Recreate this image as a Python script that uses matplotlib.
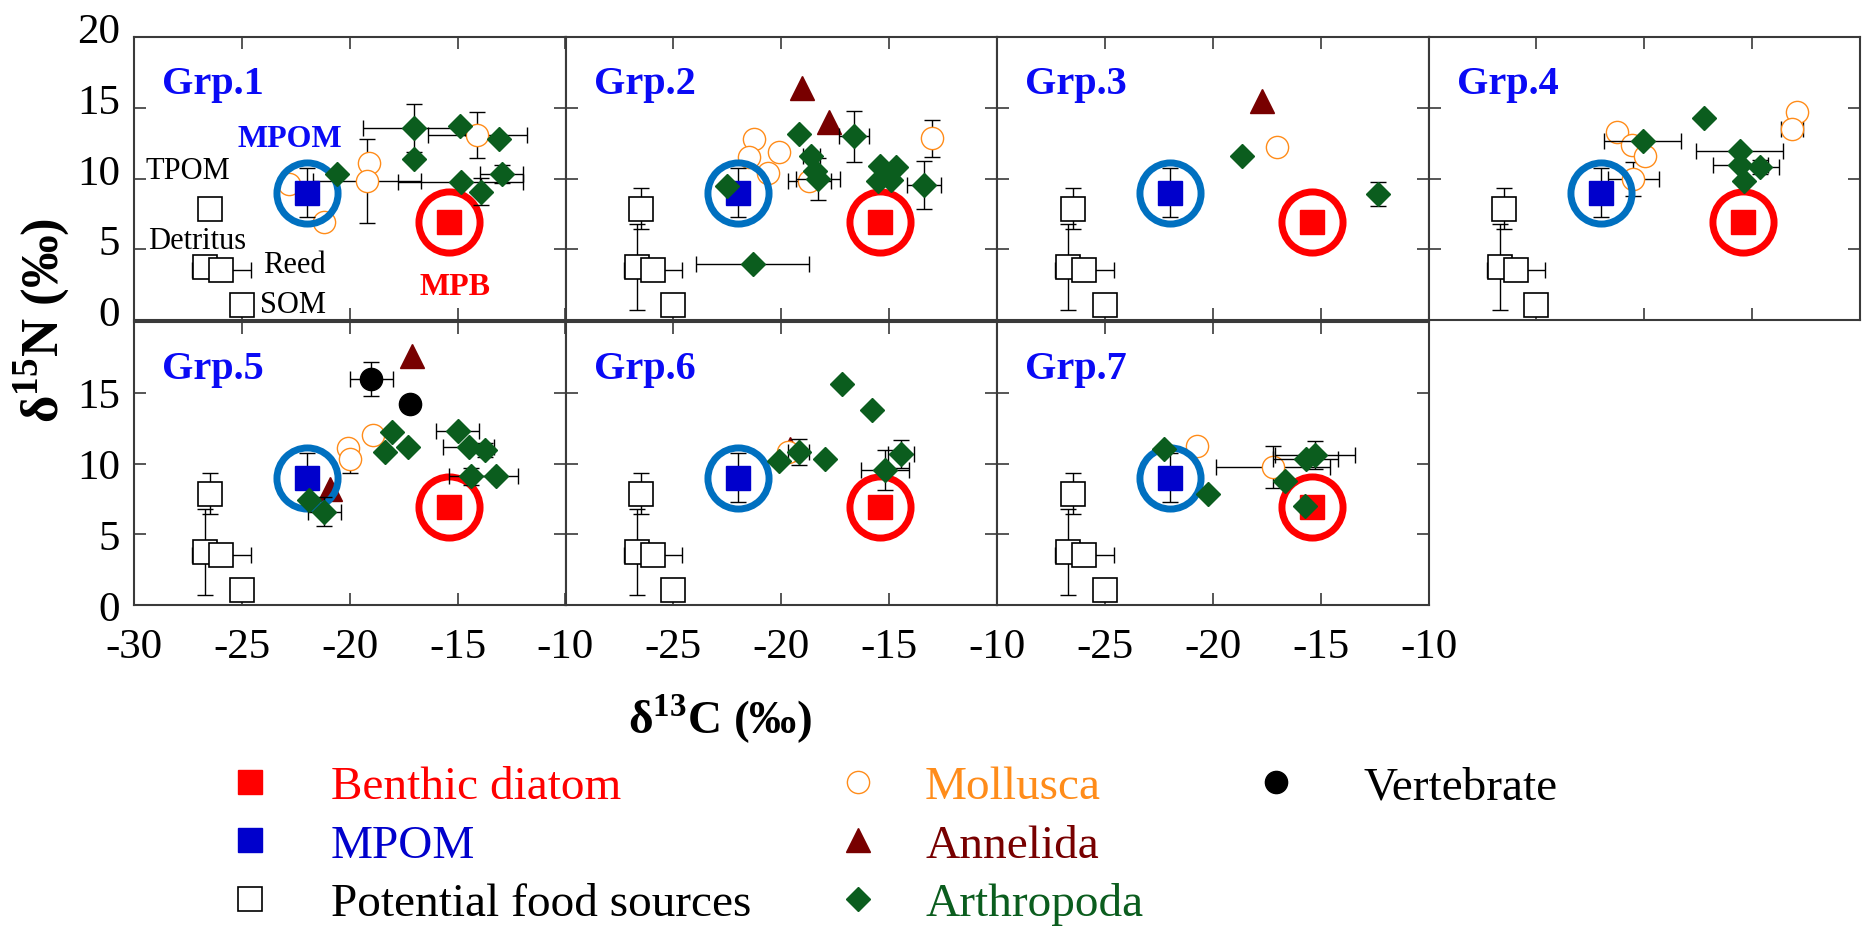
import numpy as np
import matplotlib.pyplot as plt
from matplotlib.lines import Line2D
from matplotlib.transforms import ScaledTranslation

plt.rcParams['font.family'] = ['Liberation Serif', 'DejaVu Serif']
plt.rcParams['mathtext.fontset'] = 'custom'
plt.rcParams['mathtext.rm'] = 'Liberation Serif'
plt.rcParams['mathtext.bf'] = 'Liberation Serif:bold'

RED = '#FF0000'
BLUE = '#0000CC'
RING_BLUE = '#0070C0'
LABEL_BLUE = '#0A0AF5'
ORANGE = '#FF8C1A'
DARK_RED = '#780000'
GREEN = '#0B5D1E'
FRAME = '#3A3A3A'

groups = ['Grp.1', 'Grp.2', 'Grp.3', 'Grp.4', 'Grp.5', 'Grp.6', 'Grp.7']

# potential food sources (same in every group)
food_names = ['TPOM', 'Detritus', 'Reed', 'SOM']
food_x = [-26.5, -26.7, -25.95, -25.0]
food_y = [7.85, 3.75, 3.55, 1.05]
food_xerr = [0.0, 0.0, 1.35, 0.0]
food_yerr = [1.45, 3.05, 0.0, 0.0]
food_yerr_grp1 = [0.0, 0.0, 0.0, 0.0]

mpom_x, mpom_y, mpom_yerr = -22.0, 9.0, 1.75
mpb_x, mpb_y = -15.4, 6.9

# consumers, keyed by group number
mollusca_x = {1: [-22.8, -21.2, -19.13, -19.2, -14.08],
              2: [-21.28, -21.5, -20.12, -20.6, -18.7, -13.03],
              3: [-17.02],
              4: [-21.25, -20.56, -19.95, -20.5, -12.9, -13.16],
              5: [-20.1, -19.98, -18.92],
              6: [-19.7],
              7: [-20.74, -17.21]}
mollusca_y = {1: [9.6, 6.9, 11.1, 9.83, 13.07],
              2: [12.8, 11.5, 11.84, 10.4, 9.8, 12.85],
              3: [12.26],
              4: [13.3, 12.4, 11.6, 9.95, 14.67, 13.5],
              5: [11.1, 10.3, 11.98],
              6: [10.8],
              7: [11.24, 9.77]}
mollusca_xerr = {1: [0, 0, 0, 2.5, 2.3],
                 2: [0, 0, 0, 0, 1.0, 0],
                 3: [0],
                 4: [0, 0, 0, 1.2, 0, 0.5],
                 5: [0, 0, 0],
                 6: [0],
                 7: [0, 2.64]}
mollusca_yerr = {1: [0, 0, 0, 2.95, 1.65],
                 2: [0, 0, 0, 0, 0, 1.3],
                 3: [0],
                 4: [0, 0, 0, 1.2, 0, 0],
                 5: [0, 0.95, 0],
                 6: [0],
                 7: [0, 1.5]}

annelida_x = {2: [-19.04, -17.77], 3: [-17.72], 5: [-17.13, -20.9], 6: [-19.6]}
annelida_y = {2: [16.4, 13.96], 3: [15.5], 5: [17.6, 8.2], 6: [11.0]}

arthropoda_x = {1: [-20.58, -17.02, -14.88, -13.1, -17.0, -14.85, -13.9, -12.96],
                2: [-22.52, -21.33, -19.18, -18.6, -18.45, -18.3, -16.64, -15.4, -14.7, -15.5, -14.9, -13.39],
                3: [-18.64, -12.35],
                4: [-20.08, -17.24, -15.58, -15.55, -14.65, -15.37],
                5: [-21.87, -21.18, -18.06, -18.35, -17.32, -15.0, -14.49, -13.73, -14.4, -13.2],
                6: [-17.18, -15.79, -20.12, -19.2, -17.99, -15.2, -14.47],
                7: [-22.25, -20.2, -16.67, -15.74, -15.7, -15.27]}
arthropoda_y = {1: [10.3, 13.6, 13.73, 12.78, 11.4, 9.72, 9.06, 10.3],
                2: [9.48, 3.94, 13.16, 11.6, 10.5, 9.95, 13.0, 10.9, 10.8, 9.8, 9.9, 9.53],
                3: [11.6, 8.9],
                4: [12.67, 14.25, 11.96, 10.97, 10.83, 9.8],
                5: [7.4, 6.6, 12.24, 10.82, 11.18, 12.3, 11.18, 10.94, 9.1, 9.15],
                6: [15.6, 13.76, 10.16, 10.8, 10.33, 9.53, 10.66],
                7: [11.0, 7.86, 8.75, 7.0, 10.3, 10.6]}
arthropoda_xerr = {1: [0, 2.36, 0, 0, 0, 2.9, 0, 1.0],
                   2: [0, 2.6, 0, 0.4, 0, 1.0, 0.7, 0, 0, 0, 0, 0.8],
                   3: [0, 0],
                   4: [1.8, 0, 2.0, 1.27, 0.9, 0],
                   5: [0, 0.77, 0, 0, 0, 1.0, 1.17, 0, 1.0, 1.0],
                   6: [0, 0, 0, 0.5, 0, 1.1, 0.6],
                   7: [0, 0, 0, 0, 1.5, 1.85]}
arthropoda_yerr = {1: [0, 1.7, 0, 0, 0, 0, 0.95, 0.65],
                   2: [0, 0.2, 0, 0.3, 0, 1.5, 1.8, 0, 0, 0, 0, 1.7],
                   3: [0, 0.87],
                   4: [0, 0, 0, 0, 0.5, 0],
                   5: [0, 1.05, 0, 0, 0, 0, 0, 0.5, 0.6, 0],
                   6: [0, 0, 0, 0.94, 0, 1.4, 1.0],
                   7: [0, 0, 0, 0, 0, 1.0]}

vertebrate_x = {5: [-19.0, -17.2]}
vertebrate_y = {5: [15.95, 14.2]}
vertebrate_xerr = {5: [1.0, 0]}
vertebrate_yerr = {5: [1.2, 0]}


def error_bars(ax, x, y, xerr, yerr, z):
    x, y = np.asarray(x), np.asarray(y)
    xerr, yerr = np.asarray(xerr, float), np.asarray(yerr, float)
    kw = dict(fmt='none', ecolor='black', elinewidth=1.0, capsize=6, capthick=1.0, zorder=z)
    m = xerr > 0
    if m.any():
        ax.errorbar(x[m], y[m], xerr=xerr[m], **kw)
    m = yerr > 0
    if m.any():
        ax.errorbar(x[m], y[m], yerr=yerr[m], **kw)


fig = plt.figure(figsize=(18.64, 9.28), dpi=100)
W, H = 1864, 928
pw, ph = 431.5, 283
lefts = [134 + i * pw for i in range(4)]
row_bottom = [321, 606]

axes = []
for i, name in enumerate(groups):
    row, col = divmod(i, 4)
    ax = fig.add_axes([lefts[col] / W, 1 - row_bottom[row] / H, pw / W, ph / H])
    axes.append(ax)
    g = i + 1

    # potential food sources
    fy_err = food_yerr_grp1 if g == 1 else food_yerr
    error_bars(ax, food_x, food_y, food_xerr, fy_err, 3)
    ax.plot(food_x, food_y, ls='none', marker='s', ms=17, mfc='white', mec='black', mew=1.2, zorder=3.1)

    if g in annelida_x:
        ax.plot(annelida_x[g], annelida_y[g], ls='none', marker='^', ms=17,
                mfc=DARK_RED, mec=DARK_RED, zorder=4)

    error_bars(ax, mollusca_x[g], mollusca_y[g], mollusca_xerr[g], mollusca_yerr[g], 5)
    ax.plot(mollusca_x[g], mollusca_y[g], ls='none', marker='o', ms=16,
            mfc='white', mec=ORANGE, mew=1.0, zorder=5.1)

    # MPOM and benthic diatom with rings
    ax.errorbar([mpom_x], [mpom_y], yerr=[mpom_yerr], fmt='none', ecolor='black',
                elinewidth=1.0, capsize=6, capthick=1.0, zorder=6)
    ax.plot([mpom_x], [mpom_y], ls='none', marker='s', ms=17, mfc=BLUE, mec=BLUE, zorder=6.1)
    ax.plot([mpb_x], [mpb_y], ls='none', marker='s', ms=17, mfc=RED, mec=RED, zorder=6.1)
    ax.plot([mpom_x], [mpom_y], ls='none', marker='o', ms=44, mfc='none', mec=RING_BLUE, mew=5, zorder=7)
    ax.plot([mpb_x], [mpb_y], ls='none', marker='o', ms=44, mfc='none', mec=RED, mew=5, zorder=7)

    error_bars(ax, arthropoda_x[g], arthropoda_y[g], arthropoda_xerr[g], arthropoda_yerr[g], 8)
    ax.plot(arthropoda_x[g], arthropoda_y[g], ls='none', marker='D', ms=12.4,
            mfc=GREEN, mec=GREEN, zorder=8.1)

    if g in vertebrate_x:
        error_bars(ax, vertebrate_x[g], vertebrate_y[g], vertebrate_xerr[g], vertebrate_yerr[g], 9)
        ax.plot(vertebrate_x[g], vertebrate_y[g], ls='none', marker='o', ms=16,
                mfc='black', mec='black', zorder=9.1)

    ax.text(-28.7, 16.7, name, color=LABEL_BLUE, fontsize=29, fontweight='bold',
            ha='left', va='center', zorder=10)

    ax.set_xlim(-30, -10)
    ax.set_ylim(0, 20)
    ax.set_xticks([-30, -25, -20, -15, -10])
    ax.set_yticks([0, 5, 10, 15, 20])
    ax.tick_params(direction='in', length=8.5, width=1.2, color=FRAME,
                   top=True, right=True, labelsize=31)
    ax.tick_params(axis='x', pad=16)
    ax.tick_params(axis='y', pad=10)
    for s in ax.spines.values():
        s.set_color(FRAME)
        s.set_linewidth(1.5)

    if row == 0:
        ax.set_xticklabels([])
    elif col == 0:
        ax.set_xticklabels(['-30', '-25', '-20', '-15', '-10'])
    else:
        ax.set_xticklabels(['', '-25', '-20', '-15', '-10'])

    if col == 0 and row == 0:
        ax.set_yticklabels(['0', '5', '10', '15', '20'])
        for lbl in ax.get_yticklabels():
            lbl.set_transform(lbl.get_transform() + ScaledTranslation(0, 7 / 72, fig.dpi_scale_trans))
    elif col == 0:
        ax.set_yticklabels(['0', '5', '10', '15', ''])
    else:
        ax.set_yticklabels([])

# source names in the first panel
ax1 = axes[0]
for name, tx, ty in zip(food_names, [-27.52, -27.07, -22.55, -22.62], [10.54, 5.59, 3.94, 1.1]):
    ax1.text(tx, ty, name, fontsize=22, ha='center', va='center', zorder=10)
ax1.text(-22.8, 12.8, 'MPOM', color=LABEL_BLUE, fontsize=23, fontweight='bold',
         ha='center', va='center', zorder=10)
ax1.text(-15.14, 2.36, 'MPB', color=RED, fontsize=23, fontweight='bold',
         ha='center', va='center', zorder=10)

fig.text(720 / W, 1 - 719 / H, r'δ$^{\mathbf{13}}$C (‰)', fontsize=34, fontweight='bold',
         ha='center', va='center')
fig.text(42 / W, 1 - 320 / H, r'δ$^{\mathbf{15}}$N (‰)', fontsize=38, fontweight='bold',
         ha='center', va='center', rotation=90)

# legend, three columns
LEG_FS = 34
leg_px = LEG_FS * 100 / 72


def handle(marker, ms, fc, ec, mew=1.0):
    return Line2D([], [], ls='none', marker=marker, ms=ms, mfc=fc, mec=ec, mew=mew)


legend_cols = [
    ([handle('s', 17, RED, RED), handle('s', 17, BLUE, BLUE), handle('s', 17, 'white', 'black', 1.2)],
     ['Benthic diatom', 'MPOM', 'Potential food sources'], [RED, BLUE, 'black'], 250, 81),
    ([handle('o', 16, 'white', ORANGE), handle('^', 17, DARK_RED, DARK_RED), handle('D', 12.4, GREEN, GREEN)],
     ['Mollusca', 'Annelida', 'Arthropoda'], [ORANGE, DARK_RED, GREEN], 858, 67),
    ([handle('o', 16, 'black', 'black')], ['Vertebrate'], ['black'], 1276, 88),
]
for hs, labels, colors, xc, gap in legend_cols:
    fig.legend(hs, labels, loc='upper left', bbox_to_anchor=((xc - leg_px / 2) / W, 1 - 766 / H),
               frameon=False, fontsize=LEG_FS, labelcolor=colors, handlelength=1.0,
               handletextpad=(gap - leg_px / 2) / leg_px, labelspacing=0.33,
               borderpad=0, borderaxespad=0)

fig.savefig('out.png', dpi=100)
